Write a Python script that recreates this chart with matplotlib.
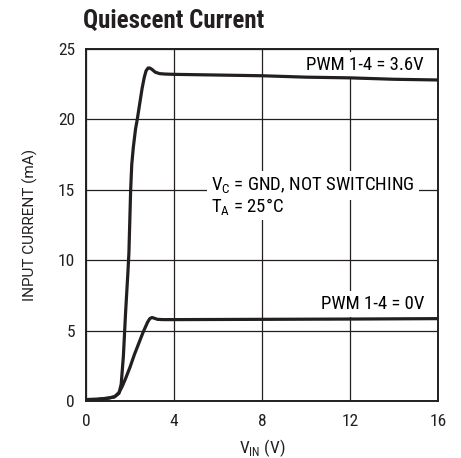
import numpy as np
import matplotlib
matplotlib.use('Agg')
import matplotlib.pyplot as plt

# values
vin_hi = [0, 0.5, 1.0, 1.3, 1.5, 1.6, 1.7, 1.8, 1.9, 1.95, 2.03, 2.08, 2.15, 2.25, 2.33, 2.45, 2.55,
          2.65, 2.73, 2.82, 2.9, 3.0, 3.15, 3.35, 3.6, 4, 6, 8, 10, 12, 14, 16]
i_hi = [0.1, 0.12, 0.2, 0.3, 0.55, 1.2, 3.2, 6.3, 9.0, 10.5, 15.0, 16.8, 18.0, 19.3, 20.0, 21.2, 22.2,
        23.0, 23.45, 23.65, 23.65, 23.55, 23.35, 23.25, 23.22, 23.2, 23.15, 23.1, 23.0, 22.95, 22.85, 22.8]

vin_lo = [0, 0.5, 1.0, 1.3, 1.5, 1.65, 1.8, 2.0, 2.2, 2.4, 2.6, 2.8, 2.9, 3.0, 3.1, 3.25, 3.5, 4,
          8, 12, 16]
i_lo = [0.1, 0.12, 0.2, 0.3, 0.6, 1.05, 1.6, 2.4, 3.3, 4.1, 4.9, 5.6, 5.85, 5.93, 5.88, 5.8, 5.78, 5.78,
        5.8, 5.82, 5.85]

xticks = [0, 4, 8, 12, 16]
yticks = [0, 5, 10, 15, 20, 25]

plt.rcParams['font.family'] = ['Roboto Condensed', 'DejaVu Sans']
plt.rcParams['mathtext.fontset'] = 'custom'
plt.rcParams['mathtext.rm'] = 'Roboto Condensed'

ink = '#231f20'
fig = plt.figure(figsize=(4.61, 4.58), dpi=100)
ax = fig.add_axes([86 / 461, 1 - 401 / 458, 352 / 461, 352 / 458])

ax.plot(vin_hi, i_hi, color=ink, lw=2.3, solid_joinstyle='round', zorder=4)
ax.plot(vin_lo, i_lo, color=ink, lw=2.3, solid_joinstyle='round', zorder=4)

ax.set_xlim(0, 16)
ax.set_ylim(0, 25)
ax.set_xticks(xticks)
ax.set_yticks(yticks)
ax.tick_params(length=0, labelsize=12.5, colors=ink)
ax.tick_params(axis='x', pad=9)
ax.tick_params(axis='y', pad=8)
ax.grid(True, color=ink, lw=0.9)
ax.set_axisbelow(True)
for s in ax.spines.values():
    s.set_linewidth(1.4)
    s.set_color(ink)

ax.set_ylabel('INPUT CURRENT (mA)', fontsize=11, color=ink, family=['Roboto', 'DejaVu Sans'])
ax.yaxis.set_label_coords(-0.135, 0.5)
ax.set_xlabel(r'V$_{\rm IN}$ (V)', fontsize=12.5, color=ink)
ax.xaxis.set_label_coords(0.5, -0.103)

box = dict(facecolor='white', edgecolor='none', pad=3)
ax.text(15.36, 23.86, 'PWM 1-4 = 3.6V', ha='right', va='center', fontsize=13.5, bbox=box, zorder=3)
ax.text(15.36, 6.9, 'PWM 1-4 = 0V', ha='right', va='center', fontsize=13.5, bbox=box, zorder=3)
ax.text(5.7, 15.3, r'V$_{\rm C}$ = GND, NOT SWITCHING', ha='left', va='center', fontsize=13.5,
        bbox=box, zorder=3)
ax.text(5.7, 13.75, r'T$_{\rm A}$ = 25°C', ha='left', va='center', fontsize=13.5,
        bbox=dict(facecolor='white', edgecolor='none', pad=1.5), zorder=3)

fig.text(83 / 461, 1 - 21 / 458, 'Quiescent Current', fontsize=18, fontweight='bold',
         ha='left', va='center', color=ink)

fig.savefig('out.png', dpi=100)
